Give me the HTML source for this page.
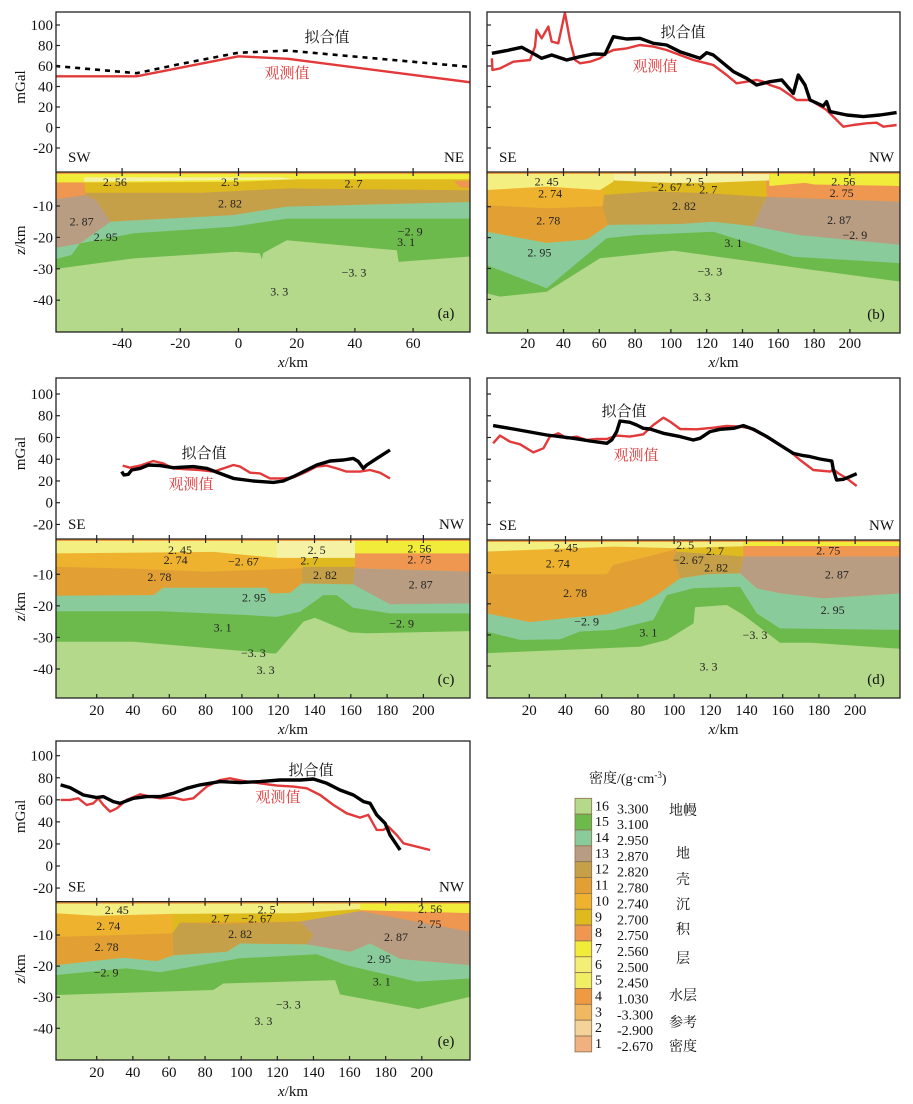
<!DOCTYPE html>
<html><head><meta charset="utf-8">
<style>
html,body{margin:0;padding:0;background:#fff;}
svg{display:block;}
text{font-family:"Liberation Serif","Noto Serif CJK SC","Noto Sans CJK SC",serif;}
</style></head>
<body>
<svg id="chart" width="913" height="1104" viewBox="0 0 913 1104" xmlns="http://www.w3.org/2000/svg"></svg>
<script>
// ---------- gravity data (x in km, value in mGal) ----------
const aFitX=[-63,-35,-20,0,17,80];
const aFitV=[60,53,62,73,75,59];
const aObsX=[-63,-35,0,17,80];
const aObsV=[50,50,69.5,67,44];
const bFitX=[0,8.2,16.6,21.3,27.8,33.4,41.8,49.2,56.7,63.2,67.8,75.3,82.7,90.2,97.6,105,116.2,120,123.7,134.9,142.3,147.9,155.3,161.9,168.4,171.2,174.9,177.7,185.1,187,188.9,198.2,207.5,216.8,226.1];
const bFitV=[72.4,75,78.2,74,67.5,70.7,65.9,69.1,71.7,71.4,88.6,86.3,87,82.1,80.5,74,67.5,73,70.7,54.5,48,41.5,44.7,46.4,33.3,51.2,41.5,26.8,21,25.2,15.5,12.2,10.6,12.2,14.5];
const bObsX=[0,0.3,4.5,12,21.3,24.1,25,27.8,31.5,33.4,37.1,40.8,43.6,46.4,49.2,54.8,60.4,64.1,67.8,75.3,82.7,90.2,97.6,105,112.5,120,123.7,131.1,136.7,142.3,147.9,151.6,155.3,160.9,166.5,170.2,177.7,187,194.4,196.3,201.9,209.3,214.9,218.7,226.1];
const bObsV=[67.5,56.1,57.7,64.2,65.9,78.9,95.1,87,98.4,83.8,82.1,112,85.4,65.9,62.6,64.2,67.5,72.4,75.6,77.2,80.5,78.9,75.6,70.7,65.9,62.6,61,51.2,43.1,44.7,46.4,44.7,41.5,38.2,31.7,26.8,26.8,17.1,4.1,0.8,2.4,4.1,4.7,0.8,2.4];
const cFitX=[33.8,35,37.4,39.3,43.9,48.5,54.9,62.2,73.2,80.6,87.9,95.3,106.3,117.3,122.8,128.4,135.7,141.2,148.6,155.9,161.4,164.2,166.9,168.8,174.3,181.6];
const cFitV=[28.6,25.5,26.1,30.1,31.6,34.7,34.1,32.2,33.2,31.6,27,22.4,20,18.7,20,24,30.1,34.7,38.4,39.3,40.8,37.8,31.6,34.7,40.8,48.5];
const cObsX=[34.3,38.3,43.9,51.2,56.7,62.2,69.6,76.9,84.3,89.8,95.3,99,104.5,110,115.5,122.8,128.4,135.7,141.2,146.7,152.2,157.7,165.1,170.6,176.1,181.6];
const cObsV=[34.1,32.2,34.1,38.4,36.2,31.6,30.7,30.1,28.6,31.6,34.7,33.2,27.6,27,22.4,22.4,23.3,28.6,33.2,34.1,31.6,28.6,28.6,30.1,27.6,22.4];
const dFitX=[0,11.2,29.6,44.3,53.5,62.8,65.5,68.3,70.1,75.6,79.3,83,86.7,94.1,103.3,110.6,114.3,119.9,125.4,132.8,138.3,143.8,151.2,158.5,165.9,171.4,175.1,180.6,187.1,188,189.8,193.5,197.2,200.9];
const dFitV=[70.9,67.8,62.3,59.2,56.8,54.6,57.7,65.4,75.2,74,71.5,68.4,67.8,63.8,60.8,57.7,59.2,65.4,67.5,68.4,70.9,67.5,60.8,53.1,45.4,43.3,42.4,40.2,38.4,30.1,20.9,21.5,24,26.7];
const dObsX=[0,3.8,9.3,14.9,22.2,27.8,31.4,36.1,40.6,46.2,51.7,57.2,62.8,68.3,75.6,83,88.5,94.1,97.8,103.3,112.5,121.7,129.1,136.4,142,149.3,156.7,164.1,169.6,176.9,186.2,188,190.8,195.4,200.9];
const dObsV=[54.6,61.7,56.2,53.7,46.3,50,60.8,63.8,59.2,60.8,57.7,58.6,58.6,61.7,60.8,62.9,71.5,78.2,74.6,67.8,67.5,69,70.6,70,68.4,62.3,54.6,47,39.3,30.1,28.6,30.7,27,22.4,15.4];
const eFitX=[0,5.2,12.6,20,23.7,29.2,32.9,40.3,47.7,55.1,62.4,69.8,77.2,88.3,99.3,110.4,121.5,132.6,140,147.4,154.7,162.1,167.7,171.4,175,179.7,182.4,186.1,188];
const eFitV=[73.5,71.1,64.4,62,62.9,58.4,56.8,61.4,62.9,62.9,65.9,70.4,73.5,76.5,75.6,76.5,78,78,78.9,75,68.9,64.4,58.4,56.8,46.3,38.7,28.1,19.1,14.5];
const eObsX=[0,5.2,9.8,14.4,18.1,20.9,23.7,27.4,31.1,36.6,44,49.5,55.1,62.4,68,73.5,80.9,88.3,93.8,101.2,110.4,119.7,128.9,136.3,143.7,151.1,158.4,165.8,170.4,175,178.7,181.5,186.1,189.8,204.6];
const eObsV=[59.9,59.9,61.4,55.3,56.8,61.4,55.3,49.3,52.3,59.9,65,62.9,61.4,62,59.9,61.4,72,78,79.5,77.1,75,72.9,72,70.4,64.4,55.3,47.8,43.9,46.3,32.7,32.7,35.7,28.1,20.6,14.5];

// ---------- section boundaries / bodies (x km, z km) ----------
const aMoho=[[-64,-30.2],[-36,-26.7],[-1,-24.6],[7.4,-25.1],[8,-27],[8.5,-25],[16.6,-20.9],[54.4,-24.1],[55,-27.8],[81,-26]];
const a295=[[-64,-27.2],[-57.4,-25.6],[-54.5,-21.9],[-36,-18.7],[-2,-16.6],[16.6,-14],[81,-14]];
const aCrust=[[-64,-23.5],[-54.5,-21.9],[-44,-15],[-2,-12.9],[16.6,-10.2],[81,-8.7]];
const a287=[[-64,-8],[-53,-6.5],[-49,-8],[-44,-15],[-54.5,-21.9],[-64,-23.5]];
const a27=[[-64,-5.8],[-13,-5.8],[16.6,-4.4],[81,-5]];
const a275L=[[-64,-2.5],[-53,-2.5],[-52.5,-6.5],[-64,-8]];
const a275R=[[74,-2],[81,-2],[81,-4.5],[76,-4]];
const a256=[[-64,-2.5],[-40,-2.5],[0,-2.3],[20,-1.5],[81,-1.5]];
const a25=[[-53,-0.9],[15,-0.9],[20,-1.5],[-53,-2.3]];

const bMoho=[[-3,-38],[4.5,-39.1],[30.6,-37.5],[60.4,-26.7],[101.3,-24.2],[179.5,-30.5],[229,-34.3]];
const b295=[[-3,-28.9],[30.6,-36.4],[64.1,-20.2],[80.9,-19.2],[123.7,-18.1],[168.4,-26.2],[229,-28.3]];
const bCrust=[[-3,-18.1],[30.6,-21.7],[53,-20.6],[65,-15.9],[70,-8],[229,-8]];
const b282=[[61.3,-9.5],[65,-15.9],[105,-15.6],[123.7,-14.9],[146,-16.3],[153.5,-6.8],[120,-5.6],[90,-5],[62.2,-6.2]];
const b287=[[153.5,-6.8],[146,-16.3],[172,-19.2],[229,-22.4],[229,-8.4]];
const b274=[[-3,2],[64,2],[62,-9.8],[30.6,-10.5],[-3,-9.5]];
const b27=[[62,2],[156,2],[153.5,-6.8],[120,-5.6],[90,-5],[62,-6.2]];
const b275=[[153,2],[229,2],[229,-8.4],[153.5,-6.8]];
const b245=[[-3,2],[67.8,2],[67.8,-1.9],[60.4,-4.6],[30.6,-3.5],[-3,-4.6]];
const b25=[[67.8,2],[155,2],[155,-1.5],[120,-2.3],[100,-2.3],[67.8,-1.5]];
const b256=[[155,2],[229,2],[229,-3.3],[180,-2.8],[175,-2.3],[155,-3.3]];

const cMoho=[[-3,-31.4],[40.2,-31.4],[117.3,-35.1],[119,-35],[133.9,-25],[140.3,-23.8],[159.6,-28.4],[168.8,-28.7],[227,-28]];
const c295=[[-3,-21.7],[54.9,-21.7],[102.6,-22.9],[119.2,-23.5],[132,-21.9],[144.9,-16.6],[152.2,-16.6],[161.4,-20.6],[181.6,-22.4],[227,-22.4]];
const cCrust=[[-3,-16.8],[51.2,-16.6],[56.7,-14.3],[113.7,-14.3],[115.5,-16.1],[126.5,-15.9],[133,-12.9],[140,-8],[227,-8]];
const c282=[[133,-12.9],[161.4,-13.2],[162.3,-7.6],[133.5,-7.6]];
const c287=[[162.3,-8.1],[161.4,-13.2],[181.6,-19.5],[227,-19.2],[227,-9.2]];
const c274=[[-3,2],[133.5,2],[133.5,-8.1],[80.6,-9.2],[40.2,-8.2],[-3,-7.6]];
const c27=[[133.5,2],[162.3,2],[162.3,-7.6],[133.5,-7.6]];
const c275=[[162.3,2],[227,2],[227,-9.2],[162.3,-8.1]];
const c245=[[-3,2],[120,2],[119.2,-4.8],[84.3,-2.9],[-3,-3.4]];
const c25=[[119.2,2],[162.3,2],[162.3,-4.8],[119.2,-4.8]];
const c256=[[162.3,2],[227,2],[227,-3.4],[162.3,-3.4]];

const dMoho=[[-4,-35.9],[81.2,-33.8],[96,-31.6],[110.7,-26.3],[111.6,-21.1],[129.1,-20.4],[138.3,-23.6],[158.5,-32.5],[176,-32.5],[226,-34.5]];
const d295=[[-4,-28.9],[14.9,-31.6],[37,-31.4],[48,-28.9],[66.4,-28.4],[88.5,-25.2],[95.9,-17.2],[110.7,-15],[136.4,-14.5],[145.7,-23.1],[158.5,-27.9],[226,-28.4]];
const dCrust=[[-4,-23],[20.4,-25.9],[40.6,-24.6],[62.8,-23.4],[81.2,-20.2],[90.4,-17.2],[103.3,-11.8],[118,-10.5],[136.4,-10.2],[145.7,-15],[158.5,-16.6],[182.5,-18.2],[226,-16.6]];
const d282=[[101.4,-3.2],[138.3,-3.2],[136.4,-10.2],[118,-10.5],[103.3,-11.8],[99.6,-5]];
const d287=[[138.3,-4.8],[226,-4.8],[226,-16.6],[182.5,-18.2],[158.5,-16.6],[145.7,-15],[136.4,-10.2]];
const d274=[[-4,2],[101,2],[99.6,-2.7],[81.2,-5.4],[66.4,-7.5],[62.8,-10.5],[-4,-10.5]];
const d27=[[101,2],[138.3,2],[138.3,-4.8],[101.4,-3.2]];
const d275=[[138.3,2],[226,2],[226,-4.8],[138.3,-4.8]];
const d245=[[-4,2],[138.3,2],[138.3,-1.5],[99.6,-2.1],[66.4,-1.6],[-4,-3.2]];
const d256=[[138.3,2],[226,2],[226,-1.4],[138.3,-1.4]];

const eMoho=[[-3,-29.3],[84.6,-27.7],[90.1,-25.6],[152,-24.5],[154.7,-29.1],[198.1,-33.8],[227,-29.8]];
const e295=[[-3,-22.9],[36.6,-20.7],[55.1,-22],[99.4,-17.5],[141.8,-16.2],[158.4,-19.7],[197.2,-25],[227,-24]];
const eCrust=[[-3,-19.7],[34.8,-17.3],[53.2,-18.4],[62.4,-16.5],[92,-15.4],[99.4,-12.7],[136.3,-13],[160.3,-15.4],[171.4,-12.7],[188,-17.7],[227,-19.7]];
const e274=[[-3,2],[62,2],[62,-9.5],[-3,-10.6]];
const e27=[[62,2],[165.8,2],[165.8,-2.3],[132.6,-5.7],[66,-6],[62,-9.5]];
const e275=[[165.8,2],[227,2],[227,-9],[165.8,-2.3]];
const e282=[[62.4,-16.5],[92,-15.4],[99.4,-12.7],[136.3,-13],[140,-10],[132.6,-5.7],[90,-6.5],[66,-6],[62,-9.5]];
const e287=[[136.3,-13],[160.3,-15.4],[171.4,-12.7],[188,-17.7],[227,-19.7],[227,-9],[165.8,-2.3],[132.6,-5.7],[140,-10]];
const e245=[[-3,2],[227,2],[227,-1.5],[170,-1.5],[130,-3],[62,-3.2],[20,-3.8],[-3,-3]];
const e256=[[165.8,2],[227,2],[227,-3],[165.8,-2]];

// density labels [text, x, z]
const aLab=[["2. 56",-42.5,-2.3],["2. 5",-2.9,-2.3],["2. 7",39.5,-2.8],["2. 82",-2.9,-9.2],["2. 87",-53.9,-15],["2. 95",-45.6,-19.8],["\u22122. 9",59,-18.2],["3. 1",57.6,-21.4],["\u22123. 3",39.7,-31.2],["3. 3",14,-37.3]];
const bLab=[["2. 45",30.6,-1.9],["2. 74",32.5,-5.7],["2. 78",31.5,-14.5],["2. 95",26.5,-24.9],["\u22122. 67",97.6,-3.7],["2. 5",113.4,-1.9],["2. 7",120.9,-4.4],["2. 82",107.3,-9.8],["3. 1",134.9,-21.7],["\u22123. 3",121.8,-31],["3. 3",117.2,-39.3],["2. 56",196.3,-1.9],["2. 75",195.4,-5.5],["2. 87",194,-14.3],["\u22122. 9",202.8,-19.2]];
const cLab=[["2. 45",65.9,-2.3],["2. 74",63.5,-5.5],["2. 78",54.5,-10.8],["\u22122. 67",100.8,-6],["2. 5",141.2,-2.3],["2. 7",137.2,-5.7],["2. 82",145.8,-10.3],["2. 56",197.8,-1.8],["2. 75",197.8,-5.3],["2. 87",198.5,-13.2],["2. 95",106.7,-17.4],["3. 1",89.4,-26.9],["\u22122. 9",188,-25.6],["\u22123. 3",106.3,-34.9],["3. 3",113.1,-40.4]];
const dLab=[["2. 45",40.3,-1.9],["2. 74",35.7,-7],["2. 78",45.3,-16.6],["\u22122. 9",51.7,-25.7],["3. 1",85.8,-29.2],["3. 3",119,-40.2],["\u22123. 3",144.7,-30],["2. 5",106.1,-1.1],["2. 7",122.6,-3],["\u22122. 67",107.9,-5.9],["2. 82",123.2,-8.4],["2. 75",185.2,-2.9],["2. 87",189.9,-10.5],["2. 95",187.6,-22]];
const eLab=[["2. 45",31.1,-2],["2. 74",26.4,-7.1],["2. 78",25.5,-13.8],["\u22122. 9",25.2,-22.1],["2. 5",114.1,-1.8],["2. 7",88.3,-4.7],["\u22122. 67",108.6,-4.7],["2. 82",99.4,-9.7],["2. 87",185.7,-10.6],["2. 56",204.6,-1.7],["2. 75",204.2,-6.5],["2. 95",176.3,-17.7],["3. 1",177.8,-25],["\u22123. 3",126.1,-32.3],["3. 3",112.3,-37.7]];

// tick labels
const xTicksA=[-40,-20,0,20,40,60];
const xTicksB=[20,40,60,80,100,120,140,160,180,200];
const gTicks=[100,80,60,40,20,0,-20];
const zTicks=[-10,-20,-30,-40];

// legend
const legNum=["16","15","14","13","12","11","10","9","8","7","6","5","4","3","2","1"];
const legVal=["3.300","3.100","2.950","2.870","2.820","2.780","2.740","2.700","2.750","2.560","2.500","2.450","1.030","-3.300","-2.900","-2.670"];
const legCol=["#b4d98a","#6dba4c","#8acb9c","#b99d82","#c6a048","#e2a034","#efb22e","#dfba1e","#ef9650","#f1eb3a","#f2ef74","#f0ee62","#ee9a40","#f0b860","#f3d39a","#f0b080"];

// ---------- drawing ----------
const COL={"3.3":"#b4d98a","3.1":"#6dba4c","2.95":"#8acb9c","2.87":"#b99d82","2.82":"#c6a048","2.78":"#e2a034","2.74":"#efb22e","2.7":"#dfba1e","2.75":"#ef9650","2.56":"#f1eb3a","2.5":"#f5f2a6","2.45":"#f3ef80","w":"#ee9a40"};
const NS="http://www.w3.org/2000/svg";
const svg=document.getElementById("chart");
function mk(tag,attrs,parent){const e=document.createElementNS(NS,tag);for(const k in attrs)e.setAttribute(k,attrs[k]);(parent||svg).appendChild(e);return e;}

const P={
 a:{L:56,R:470,T:12,D:172,B:332,x0:238.5,kx:2.91,g0:127.5,kg:1.025,z0:174.6,kz:3.14,left:true,xt:xTicksA,tb:348,xb:367,dirL:"SW",dirR:"NE",
    fitX:aFitX,fitV:aFitV,obsX:aObsX,obsV:aObsV,dashed:true,lab:aLab,fitLbl:[327,42],obsLbl:[287,78],
    layers:[["3.1",aMoho,1],["2.95",a295,1],["2.82",aCrust,1],["2.87",a287,0],["2.7",a27,1],["2.75",a275L,0],["2.75",a275R,0],["2.56",a256,1],["2.5",a25,0]]},
 b:{L:487,R:900,T:12,D:172,B:333,x0:491.9,kx:1.79,g0:127.5,kg:1.025,z0:175.8,kz:3.09,left:false,xt:xTicksB,tb:348,xb:367,dirL:"SE",dirR:"NW",
    fitX:bFitX,fitV:bFitV,obsX:bObsX,obsV:bObsV,lab:bLab,fitLbl:[683,37],obsLbl:[655,71],
    layers:[["3.1",bMoho,1],["2.95",b295,1],["2.78",bCrust,1],["2.82",b282,0],["2.87",b287,0],["2.74",b274,0],["2.7",b27,0],["2.75",b275,0],["2.45",b245,0],["2.5",b25,0],["2.56",b256,0]]},
 c:{L:56,R:470,T:378,D:539,B:698,x0:60.4,kx:1.815,g0:502.7,kg:1.087,z0:542.7,kz:3.157,left:true,xt:xTicksB,tb:715,xb:734,dirL:"SE",dirR:"NW",
    fitX:cFitX,fitV:cFitV,obsX:cObsX,obsV:cObsV,lab:cLab,fitLbl:[204,458],obsLbl:[191,489],
    layers:[["3.1",cMoho,1],["2.95",c295,1],["2.78",cCrust,1],["2.82",c282,0],["2.87",c287,0],["2.74",c274,0],["2.7",c27,0],["2.75",c275,0],["2.45",c245,0],["2.5",c25,0],["2.56",c256,0]]},
 d:{L:487,R:900,T:378,D:540,B:698,x0:493.1,kx:1.81,g0:502.7,kg:1.087,z0:541.6,kz:3.11,left:false,xt:xTicksB,tb:715,xb:734,dirL:"SE",dirR:"NW",
    fitX:dFitX,fitV:dFitV,obsX:dObsX,obsV:dObsV,lab:dLab,fitLbl:[624,416],obsLbl:[636,460],
    layers:[["3.1",dMoho,1],["2.95",d295,1],["2.78",dCrust,1],["2.82",d282,0],["2.87",d287,0],["2.74",d274,0],["2.7",d27,0],["2.75",d275,0],["2.45",d245,0],["2.56",d256,0]]},
 e:{L:56,R:470,T:741,D:901.7,B:1060,x0:60.6,kx:1.806,g0:866,kg:1.103,z0:903.9,kz:3.11,left:true,xt:xTicksB,tb:1077,xb:1096,dirL:"SE",dirR:"NW",
    fitX:eFitX,fitV:eFitV,obsX:eObsX,obsV:eObsV,lab:eLab,fitLbl:[311,775],obsLbl:[278,802],
    layers:[["3.1",eMoho,1],["2.95",e295,1],["2.78",eCrust,1],["2.74",e274,0],["2.7",e27,0],["2.75",e275,0],["2.82",e282,0],["2.87",e287,0],["2.45",e245,0],["2.56",e256,0]]}
};

const defs=mk("defs",{});
for(const id in P){
 const p=P[id];
 const X=x=>p.x0+p.kx*x, G=v=>p.g0-p.kg*v, Z=z=>p.z0-p.kz*z;
 const cg=mk("clipPath",{id:"cg"+id},defs); mk("rect",{x:p.L,y:p.T,width:p.R-p.L,height:p.D-p.T},cg);
 const cs=mk("clipPath",{id:"cs"+id},defs); mk("rect",{x:p.L,y:p.D,width:p.R-p.L,height:p.B-p.D},cs);
 const panel=mk("g",{});
 
 

 // section
 const sec=mk("g",{"clip-path":"url(#cs"+id+")"},panel);
 
 
 const base=mk("rect",{x:p.L,y:p.D,width:p.R-p.L,height:p.B-p.D,fill:COL["3.3"]},sec);
 
 
 p.layers.forEach(([c,pts,up])=>{
  let q=pts;
  if(up){q=[[pts[0][0],5]].concat(pts,[[pts[pts.length-1][0],5]]);}
  const poly=mk("polygon",{points:q.map(v=>X(v[0]).toFixed(1)+","+Z(v[1]).toFixed(1)).join(" "),fill:COL[c]},sec);
  
  
 });
 const wl=mk("rect",{x:p.L,y:p.D,width:p.R-p.L,height:2,fill:COL.w},sec);
 
 
 // white bottom gap (model bottom)
 p.lab.forEach(([t,x,z])=>{
  const tx=mk("text",{x:X(x),y:Z(z)+4,"font-size":"12","text-anchor":"middle",fill:"#222"},sec);
  tx.textContent=t;
  
  
 });

 // gravity curves
 const gg=mk("g",{"clip-path":"url(#cg"+id+")"},panel);
 const pathOf=(xs,vs)=>xs.map((x,i)=>(i?"L":"M")+X(x).toFixed(1)+","+G(vs[i]).toFixed(1)).join("");
 const obs=mk("path",{d:pathOf(p.obsX,p.obsV),fill:"none",stroke:"#e2393a","stroke-width":"2.4","stroke-linejoin":"round"},gg);
 
 
 const fit=mk("path",{d:pathOf(p.fitX,p.fitV),fill:"none",stroke:"#000","stroke-width":p.dashed?"2.6":"3.4","stroke-dasharray":p.dashed?"5,5":"none","stroke-linejoin":"round"},gg);
 
 
 const fl=mk("text",{x:p.fitLbl[0],y:p.fitLbl[1],"font-size":"15","text-anchor":"middle",fill:"#111"},panel);
 fl.textContent="拟合值";
 
 
 const ol=mk("text",{x:p.obsLbl[0],y:p.obsLbl[1],"font-size":"15","text-anchor":"middle",fill:"#e2393a"},panel);
 ol.textContent="观测值";
 
 
 const dl=mk("text",{x:p.L+12,y:p.D-10,"font-size":"15",fill:"#111"},panel);
 dl.textContent=p.dirL;
 
 
 const dr=mk("text",{x:p.R-6,y:p.D-10,"font-size":"15","text-anchor":"end",fill:"#111"},panel);
 dr.textContent=p.dirR;
 
 
 const pl=mk("text",{x:p.R-24,y:p.B-14,"font-size":"15","text-anchor":"middle",fill:"#111"},panel);
 pl.textContent="("+id+")";
 
 

 // frames
 const fr=mk("rect",{x:p.L,y:p.T,width:p.R-p.L,height:p.B-p.T,fill:"none",stroke:"#222","stroke-width":"1.3"},panel);
 
 
 const dv=mk("line",{x1:p.L,x2:p.R,y1:p.D,y2:p.D,stroke:"#222","stroke-width":"1.3"},panel);
 
 

 // x ticks
 p.xt.forEach(t=>{
  const xx=X(t);
  const tk=mk("path",{d:`M${xx},${p.B}v-4M${xx},${p.D-4}v8`,stroke:"#222","stroke-width":"1.2"},panel);
  
  
  const tl=mk("text",{x:xx,y:p.tb,"font-size":"15","text-anchor":"middle",fill:"#111"},panel);
  tl.textContent=String(t);
  
  
 });
 const xt=mk("text",{x:(p.L+p.R)/2+30,y:p.xb,"font-size":"15","text-anchor":"middle",fill:"#111"},panel);
 xt.innerHTML='<tspan font-style="italic">x</tspan>/km';
 
 

 // y ticks
 gTicks.forEach(t=>{
  const yy=G(t);
  if(yy<p.T+2||yy>p.D-2)return;
  const tk=mk("line",{x1:p.L,x2:p.L+4,y1:yy,y2:yy,stroke:"#222","stroke-width":"1.2"},panel);
  
  
  if(p.left){
   const tl=mk("text",{x:p.L-3,y:yy+5,"font-size":"15","text-anchor":"end",fill:"#111"},panel);
   tl.textContent=String(t);
   
   
  }
 });
 zTicks.forEach(t=>{
  const yy=Z(t);
  const tk=mk("line",{x1:p.L,x2:p.L+4,y1:yy,y2:yy,stroke:"#222","stroke-width":"1.2"},panel);
  
  
  if(p.left){
   const tl=mk("text",{x:p.L-3,y:yy+5,"font-size":"15","text-anchor":"end",fill:"#111"},panel);
   tl.textContent=String(t);
   
   
  }
 });
 if(p.left){
  const gy=(p.T+p.D)/2-5;
  const ga=mk("text",{x:0,y:0,"font-size":"15","text-anchor":"middle",fill:"#111",transform:`translate(25,${gy}) rotate(-90)`},panel);
  ga.textContent="mGal";
  
  
  const zy=(p.D+p.B)/2-12;
  const za=mk("text",{x:0,y:0,"font-size":"15","text-anchor":"middle",fill:"#111",transform:`translate(25,${zy}) rotate(-90)`},panel);
  za.innerHTML='<tspan font-style="italic">z</tspan>/km';
  
  
 }
}

// legend
const lg=mk("g",{});


const lt=mk("text",{x:589,y:783,"font-size":"14",fill:"#111"},lg);
lt.innerHTML='密度/(g·cm<tspan font-size="9" dy="-5">-3</tspan><tspan dy="5">)</tspan>';


const sh=15.85, top0=798.3;
legCol.forEach((c,i)=>{
 const r=mk("rect",{x:575,y:top0+i*sh,width:16.7,height:sh,fill:c,stroke:"#8a7050","stroke-width":"0.8"},lg);
 
 
 const n=mk("text",{x:595,y:top0+i*sh+12,"font-size":"14",fill:"#111"},lg);
 n.textContent=legNum[i];
 
 
 const v=mk("text",{x:617,y:top0+i*sh+15,"font-size":"14",fill:"#111"},lg);
 v.textContent=legVal[i];
 
 
});
const legGroups=[["地幔",815],["地",858],["壳",884],["沉",909],["积",934],["层",963],["水层",1000],["参考",1027],["密度",1051]];
legGroups.forEach(([t,y])=>{
 const g=mk("text",{x:683,y:y,"font-size":"14","text-anchor":"middle",fill:"#111"},lg);
 g.textContent=t;
 
 
});
</script>
</body></html>
